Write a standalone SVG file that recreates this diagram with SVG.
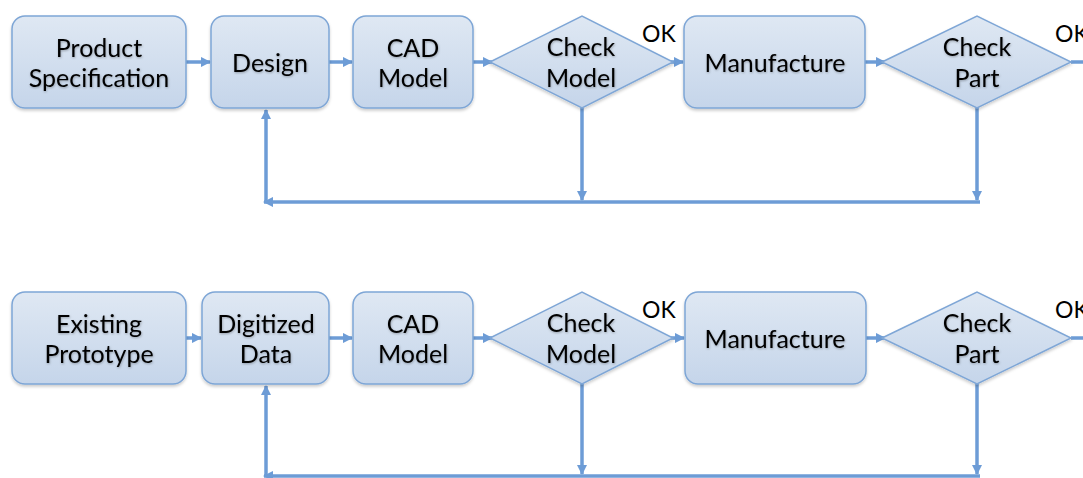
<svg xmlns="http://www.w3.org/2000/svg" width="1083" height="478" viewBox="0 0 1083 478">
<style>
.box{fill:url(#g);stroke:#7ea6d6;stroke-width:1.5;filter:url(#sh)}
.t{font-family:Lato,"Liberation Sans",sans-serif;font-size:25px;fill:#000;text-anchor:middle;filter:url(#ts)}
.ok{font-family:Lato,"Liberation Sans",sans-serif;font-size:23px;fill:#000}
.c{fill:none;stroke:#6d9cd6;stroke-width:3.5}
</style>
<defs>
<linearGradient id="g" x1="0" y1="0" x2="0" y2="1">
<stop offset="0" stop-color="#dfe8f3"/>
<stop offset="1" stop-color="#c5d5ea"/>
</linearGradient>
<filter id="sh" x="-10%" y="-10%" width="120%" height="130%">
<feDropShadow dx="0" dy="2" stdDeviation="1.5" flood-color="#000" flood-opacity="0.2"/>
</filter>
<filter id="ts" x="-10%" y="-10%" width="120%" height="130%">
<feDropShadow dx="0.5" dy="1" stdDeviation="0.8" flood-color="#000" flood-opacity="0.3"/>
</filter>
<marker id="a" viewBox="0 0 10 10" refX="9" refY="5" markerWidth="3" markerHeight="3" orient="auto" markerUnits="strokeWidth">
<path d="M0,0 L10,5 L0,10 z" fill="#6d9cd6"/>
</marker>
</defs>
<g id="connectors">
<line class="c" x1="186" y1="62" x2="210" y2="62" marker-end="url(#a)"/>
<line class="c" x1="329" y1="62" x2="352" y2="62" marker-end="url(#a)"/>
<line class="c" x1="473" y1="62" x2="492" y2="62" marker-end="url(#a)"/>
<line class="c" x1="660" y1="62" x2="683" y2="62" marker-end="url(#a)"/>
<line class="c" x1="865" y1="62" x2="885" y2="62" marker-end="url(#a)"/>
<line class="c" x1="1071" y1="62" x2="1083" y2="62"/>
<line class="c" x1="582" y1="108" x2="582" y2="200" marker-end="url(#a)"/>
<line class="c" x1="977" y1="108" x2="977" y2="200" marker-end="url(#a)"/>
<line class="c" x1="980" y1="202" x2="264" y2="202" marker-end="url(#a)"/>
<line class="c" x1="266" y1="202" x2="266" y2="110" marker-end="url(#a)"/>
<line class="c" x1="186" y1="338" x2="201" y2="338" marker-end="url(#a)"/>
<line class="c" x1="329" y1="338" x2="352" y2="338" marker-end="url(#a)"/>
<line class="c" x1="473" y1="338" x2="492" y2="338" marker-end="url(#a)"/>
<line class="c" x1="660" y1="338" x2="684" y2="338" marker-end="url(#a)"/>
<line class="c" x1="866" y1="338" x2="885" y2="338" marker-end="url(#a)"/>
<line class="c" x1="1071" y1="338" x2="1083" y2="338"/>
<line class="c" x1="582" y1="384" x2="582" y2="474" marker-end="url(#a)"/>
<line class="c" x1="977" y1="384" x2="977" y2="474" marker-end="url(#a)"/>
<line class="c" x1="980" y1="476" x2="264" y2="476" marker-end="url(#a)"/>
<line class="c" x1="266" y1="476" x2="266" y2="386" marker-end="url(#a)"/>
</g>
<g id="product-spec"><rect class="box" x="12" y="16" width="174" height="92" rx="13"/><text class="t" x="99" y="57">Product</text><text class="t" x="99" y="87">Specification</text></g>
<g id="design"><rect class="box" x="211" y="16" width="118" height="92" rx="13"/><text class="t" x="270" y="72">Design</text></g>
<g id="cad-model-1"><rect class="box" x="353" y="16" width="120" height="92" rx="13"/><text class="t" x="413" y="57">CAD</text><text class="t" x="413" y="87">Model</text></g>
<g id="check-model-1"><polygon class="box" points="490,62 582,16 673,62 582,108"/><text class="t" x="581" y="56">Check</text><text class="t" x="581" y="87">Model</text></g>
<text class="ok" x="642" y="42">OK</text>
<g id="manufacture-1"><rect class="box" x="684" y="16" width="181" height="92" rx="13"/><text class="t" x="775" y="72">Manufacture</text></g>
<g id="check-part-1"><polygon class="box" points="882,62 977,16 1071,62 977,108"/><text class="t" x="977" y="56">Check</text><text class="t" x="977" y="87">Part</text></g>
<text class="ok" x="1055" y="42">OK</text>
<g id="existing-prototype"><rect class="box" x="12" y="292" width="174" height="92" rx="13"/><text class="t" x="99" y="333">Existing</text><text class="t" x="99" y="363">Prototype</text></g>
<g id="digitized-data"><rect class="box" x="202" y="292" width="127" height="92" rx="13"/><text class="t" x="266" y="333">Digitized</text><text class="t" x="266" y="363">Data</text></g>
<g id="cad-model-2"><rect class="box" x="353" y="292" width="120" height="92" rx="13"/><text class="t" x="413" y="333">CAD</text><text class="t" x="413" y="363">Model</text></g>
<g id="check-model-2"><polygon class="box" points="490,338 582,292 673,338 582,384"/><text class="t" x="581" y="332">Check</text><text class="t" x="581" y="363">Model</text></g>
<text class="ok" x="642" y="318">OK</text>
<g id="manufacture-2"><rect class="box" x="685" y="292" width="181" height="92" rx="13"/><text class="t" x="775" y="348">Manufacture</text></g>
<g id="check-part-2"><polygon class="box" points="882,338 977,292 1071,338 977,384"/><text class="t" x="977" y="332">Check</text><text class="t" x="977" y="363">Part</text></g>
<text class="ok" x="1055" y="318">OK</text>
</svg>
